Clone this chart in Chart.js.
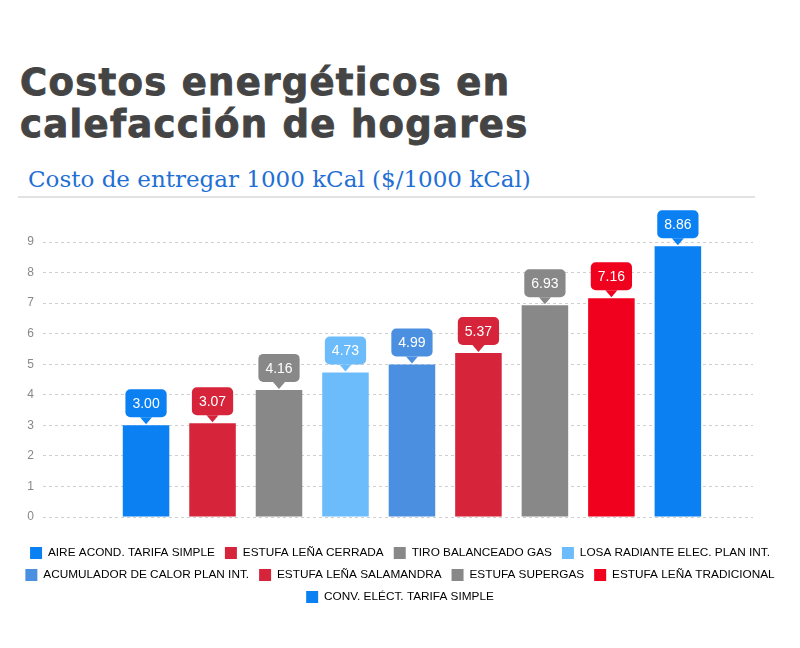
<!DOCTYPE html>
<html>
<head>
<meta charset="utf-8">
<script src="https://cdn.jsdelivr.net/npm/chart.js@4"></script>
<style>
  body { margin: 0; width: 800px; height: 648px; background: #fff; position: relative; overflow: hidden; }
  #title { position: absolute; left: 20px; top: 62px; margin: 0; font-family: 'DejaVu Sans', sans-serif; font-weight: bold; font-size: 37px; line-height: 42px; letter-spacing: 1.3px; color: #444; -webkit-text-stroke: 0.9px #444; }
  #subtitle { position: absolute; left: 28px; top: 164px; margin: 0; font-family: 'DejaVu Serif', serif; font-size: 23px; line-height: 30px; color: #1f6fd4; }
  #rule { position: absolute; left: 18px; top: 196px; width: 737px; height: 2px; background: #e2e2e2; }
  #wrap { position: absolute; left: 0; top: 200px; width: 800px; height: 448px; }
</style>
</head>
<body>
<h1 id="title">Costos energéticos en<br>calefacción de hogares</h1>
<p id="subtitle">Costo de entregar 1000 kCal ($/1000 kCal)</p>
<div id="rule"></div>
<div id="wrap"><canvas id="myChart"></canvas></div>

<script>
// valores
const categories = [
  'AIRE ACOND. TARIFA SIMPLE',
  'ESTUFA LEÑA CERRADA',
  'TIRO BALANCEADO GAS',
  'LOSA RADIANTE ELEC. PLAN INT.',
  'ACUMULADOR DE CALOR PLAN INT.',
  'ESTUFA LEÑA SALAMANDRA',
  'ESTUFA SUPERGAS',
  'ESTUFA LEÑA TRADICIONAL',
  'CONV. ELÉCT. TARIFA SIMPLE',
];
const costs = [3.0, 3.07, 4.16, 4.73, 4.99, 5.37, 6.93, 7.16, 8.86];
const barColors = [
  '#0a80f2',
  '#d6243a',
  '#888888',
  '#6cbcfb',
  '#4a8fe0',
  '#d6243a',
  '#888888',
  '#f0021e',
  '#0a80f2',
];
const yTicks = [0, 1, 2, 3, 4, 5, 6, 7, 8, 9];

// globo con el valor encima de cada barra
const valueTags = {
  id: 'valueTags',
  afterDatasetsDraw(chart) {
    const ctx = chart.ctx;
    const meta = chart.getDatasetMeta(0);
    ctx.save();
    ctx.font = '14px "Liberation Sans", Arial, sans-serif';
    ctx.textAlign = 'center';
    ctx.textBaseline = 'middle';
    meta.data.forEach((bar, i) => {
      const text = costs[i].toFixed(2);
      const w = ctx.measureText(text).width + 14;
      const h = 28;
      const tip = bar.y - 1;
      const bottom = tip - 7;
      ctx.fillStyle = barColors[i];
      ctx.beginPath();
      ctx.roundRect(bar.x - w / 2, bottom - h, w, h, 5);
      ctx.fill();
      ctx.beginPath();
      ctx.moveTo(bar.x - 6, bottom);
      ctx.lineTo(bar.x + 6, bottom);
      ctx.lineTo(bar.x, tip);
      ctx.closePath();
      ctx.fill();
      ctx.fillStyle = '#fff';
      ctx.fillText(text, bar.x, bottom - h / 2 + 1);
    });
    ctx.restore();
  },
};

const data = {
  datasets: [
    {
      label: 'Costo',
      data: costs.map((v, i) => ({ x: i + 1, y: v })),
      backgroundColor: barColors,
      borderWidth: 0,
      barPercentage: 0.7,
      categoryPercentage: 1,
    },
  ],
};

const config = {
  type: 'bar',
  data: data,
  options: {
    responsive: true,
    maintainAspectRatio: false,
    animation: false,
    layout: { padding: { top: 42, bottom: 35 } },
    plugins: {
      tooltip: { enabled: false },
      legend: {
        position: 'bottom',
        labels: {
          boxWidth: 12,
          boxHeight: 12,
          padding: 10,
          color: '#555',
          font: { family: '"Liberation Sans", Arial, sans-serif', size: 11.8 },
          generateLabels: () =>
            categories.map((c, i) => ({
              text: c,
              fillStyle: barColors[i],
              strokeStyle: barColors[i],
              lineWidth: 0,
              hidden: false,
              index: i,
            })),
        },
        onClick: () => {},
      },
    },
    scales: {
      x: {
        type: 'linear',
        offset: false,
        min: -0.55,
        max: 10.13,
        grid: { display: false },
        border: { display: false },
        ticks: { display: false },
        afterFit: (s) => {
          s.height = 20;
        },
      },
      y: {
        min: 0,
        max: 9,
        afterBuildTicks: (s) => {
          s.ticks = yTicks.map((v) => ({ value: v }));
        },
        afterFit: (s) => {
          s.width = 43;
        },
        grid: { color: '#cfcfcf', drawTicks: false },
        border: { display: false, dash: [3, 3] },
        ticks: {
          padding: 9,
          color: '#888',
          font: { family: '"Liberation Sans", Arial, sans-serif', size: 12 },
        },
      },
      right: {
        position: 'right',
        grid: { display: false },
        border: { display: false },
        ticks: { display: false },
        afterFit: (s) => {
          s.width = 47;
        },
      },
    },
  },
  plugins: [valueTags],
};

const myChart = new Chart(document.getElementById('myChart'), config);
</script>
</body>
</html>
